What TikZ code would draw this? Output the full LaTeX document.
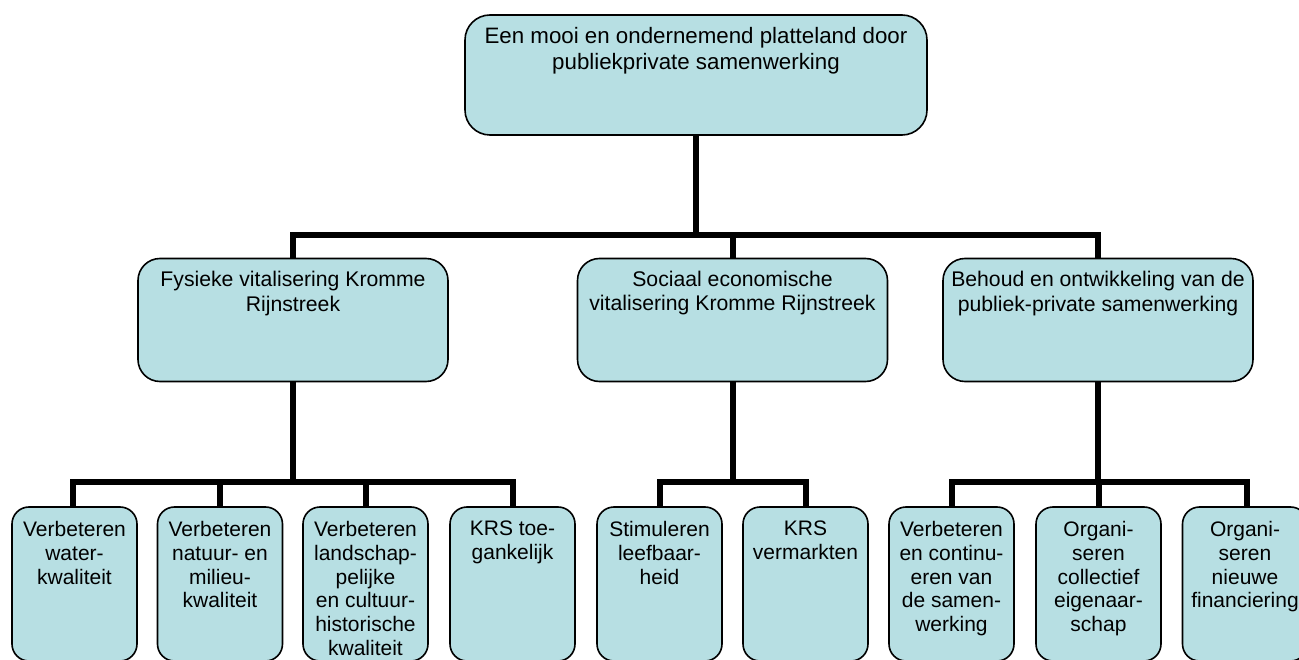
\documentclass[tikz,border=0pt]{standalone}
\usepackage{fontspec}
\setmainfont{Liberation Sans}
\definecolor{boxfill}{RGB}{183,223,227}
\newcommand\fontTopBox{\fontsize{22.3}{25.8}\selectfont}
\newcommand\fontMidBox{\fontsize{21.2}{24.8}\selectfont}
\newcommand\fontLowBox{\fontsize{21}{23.8}\selectfont}
\begin{document}
\begin{tikzpicture}[x=1pt,y=-1pt,
  basebox/.style={draw=black, line width=1.6pt, fill=boxfill, inner sep=0pt, outer sep=0pt},
  topbox/.style={basebox, rounded corners=25pt, minimum width=462pt, minimum height=120pt},
  midbox/.style={basebox, rounded corners=22pt, minimum width=310pt, minimum height=123pt},
  lowbox/.style={basebox, rounded corners=17pt, minimum width=125pt, minimum height=154pt},
  txt/.style={inner sep=0pt, align=center, anchor=north, text=black},
  conn/.style={line width=6pt, line join=miter, draw=black}]
\useasboundingbox (0,0) rectangle (1299,660);
\clip (0,0) rectangle (1299,660);

% boxes
\node[topbox] (top) at (696,75) {};
\node[midbox] (ml) at (293,320) {};
\node[midbox] (mm) at (732.5,320) {};
\node[midbox] (mr) at (1098,320) {};
\node[lowbox] (b1) at (74.5,584) {};
\node[lowbox] (b2) at (220,584) {};
\node[lowbox] (b3) at (365.5,584) {};
\node[lowbox] (b4) at (512.5,584) {};
\node[lowbox] (b5) at (659.5,584) {};
\node[lowbox] (b6) at (805.5,584) {};
\node[lowbox] (b7) at (951.5,584) {};
\node[lowbox] (b8) at (1098.5,584) {};
\node[lowbox] (b9) at (1245,584) {};

% texts
\node[txt, font=\fontTopBox] (ttop) at ([yshift=-12pt]top.north) {Een mooi en ondernemend platteland door\\publiekprivate samenwerking};
\node[txt, font=\fontMidBox] (tml) at ([yshift=-12.5pt]ml.north) {Fysieke vitalisering Kromme\\Rijnstreek};
\node[txt, font=\fontMidBox] (tmm) at ([yshift=-12pt]mm.north) {Sociaal economische\\vitalisering Kromme Rijnstreek};
\node[txt, font=\fontMidBox] (tmr) at ([yshift=-12.5pt]mr.north) {Behoud en ontwikkeling van de\\publiek-private samenwerking};
\node[txt, font=\fontLowBox] (tb1) at ([yshift=-14pt]b1.north) {Verbeteren\\water-\\kwaliteit};
\node[txt, font=\fontLowBox] (tb2) at ([yshift=-14pt]b2.north) {Verbeteren\\natuur- en\\milieu-\\kwaliteit};
\node[txt, font=\fontLowBox] (tb3) at ([yshift=-14pt]b3.north) {Verbeteren\\landschap-\\pelijke\\en cultuur-\\historische\\kwaliteit};
\node[txt, font=\fontLowBox] (tb4) at ([yshift=-14pt]b4.north) {KRS toe-\\gankelijk};
\node[txt, font=\fontLowBox] (tb5) at ([yshift=-14pt]b5.north) {Stimuleren\\leefbaar-\\heid};
\node[txt, font=\fontLowBox] (tb6) at ([yshift=-14pt]b6.north) {KRS\\vermarkten};
\node[txt, font=\fontLowBox] (tb7) at ([yshift=-14pt]b7.north) {Verbeteren\\en continu-\\eren van\\de samen-\\werking};
\node[txt, font=\fontLowBox] (tb8) at ([yshift=-14pt]b8.north) {Organi-\\seren\\collectief\\eigenaar-\\schap};
\node[txt, font=\fontLowBox] (tb9) at ([yshift=-14pt]b9.north) {Organi-\\seren\\nieuwe\\financiering};

% bus coordinates
\coordinate (bus0) at (696,235);
\coordinate (busL) at (293,482);
\coordinate (busM) at (732.5,482);
\coordinate (busR) at (1098,482);

% connectors
\draw[conn] (top.south) -- (bus0);
\draw[conn] (ml.north) |- (bus0) -| (mr.north);
\draw[conn] (mm.north) -- (mm.north |- bus0);

\draw[conn] (ml.south) -- (busL);
\draw[conn] ([xshift=-1.5pt]b1.north) |- (busL) -| (b4.north);
\draw[conn] (b2.north) -- (b2.north |- busL);
\draw[conn] (b3.north) -- (b3.north |- busL);

\draw[conn] (mm.south) -- (busM);
\draw[conn] (b5.north) |- (busM) -| (b6.north);

\draw[conn] (mr.south) -- (busR);
\draw[conn] (b7.north) |- (busR) -| ([xshift=2pt]b9.north);
\draw[conn] (b8.north) -- (b8.north |- busR);
\end{tikzpicture}
\end{document}
